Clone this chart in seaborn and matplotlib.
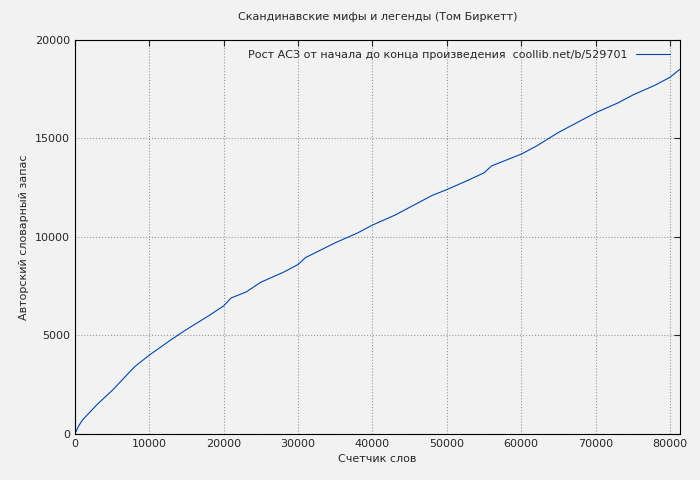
import matplotlib
matplotlib.use("Agg")
import matplotlib.pyplot as plt
import seaborn as sns
import pandas as pd

words = [0, 500, 1000, 2000, 3000, 5000, 8000, 10000, 13000, 15000, 18000, 20000, 21000, 23000, 25000, 28000, 30000, 31000, 35000, 38000, 40000, 43000, 45000, 48000, 50000, 53000, 55000, 56000, 58000, 60000, 62000, 65000, 68000, 70000, 73000, 75000, 78000, 80000, 81300]
vocab = [0, 400, 700, 1100, 1500, 2200, 3400, 4000, 4800, 5300, 6000, 6500, 6900, 7200, 7700, 8200, 8600, 8950, 9700, 10200, 10600, 11100, 11500, 12100, 12400, 12900, 13250, 13600, 13900, 14200, 14600, 15300, 15900, 16300, 16800, 17200, 17700, 18100, 18500]

df = pd.DataFrame({"x": words, "y": vocab})
sns.set_style("white")
plt.rcParams['font.family'] = ['DejaVu Sans']
plt.rcParams['font.size'] = 8

fig = plt.figure(figsize=(7, 4.8), dpi=100, facecolor="#f2f2f2")
ax = fig.add_axes([0.107, 0.096, 0.864, 0.821])
ax.set_facecolor("#f2f2f2")
sns.lineplot(data=df, x="x", y="y", ax=ax, color="#0046ad", linewidth=0.8,
             label="Рост АСЗ от начала до конца произведения  coollib.net/b/529701")
ax.set_xlim(0, 81300)
ax.set_ylim(0, 20000)
ax.set_xticks(range(0, 80001, 10000))
ax.set_yticks(range(0, 20001, 5000))
ax.grid(True, color="#999999", linestyle=":", linewidth=0.8)
for s in ax.spines.values():
    s.set_color("black"); s.set_linewidth(0.8)
ax.tick_params(direction="in", length=4, labelsize=8, top=True, right=True)
ax.set_xlabel("Счетчик слов", fontsize=8)
ax.set_ylabel("Авторский словарный запас", fontsize=8)
ax.set_title("Скандинавские мифы и легенды (Том Биркетт)", fontsize=8, pad=14)
leg = ax.legend(loc="upper right", frameon=False, fontsize=8, markerfirst=False, handlelength=3)
fig.savefig("out.png", dpi=100, facecolor="#f2f2f2")
